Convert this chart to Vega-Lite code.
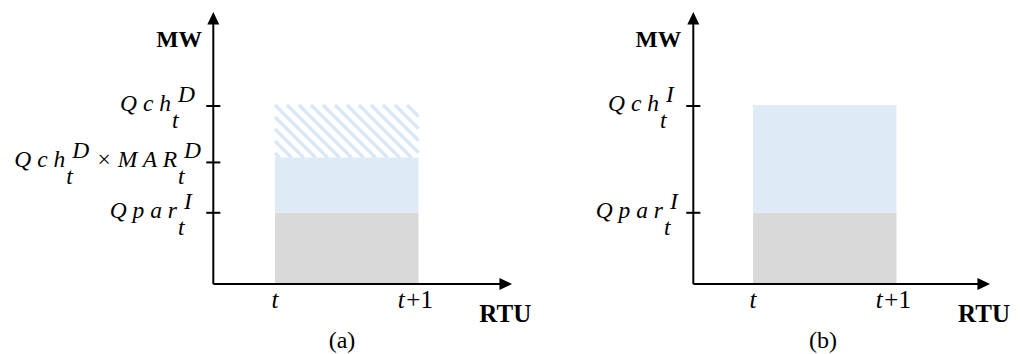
{
  "$schema": "https://vega.github.io/schema/vega-lite/v6.json",
  "padding": 0,
  "spacing": 0,
  "background": "white",
  "config": {"view": {"stroke": null}, "concat": {"spacing": 0}},
  "datasets": {
    "blocks": [
      {"panel": "a", "start": 0, "end": 1, "low": 0, "high": 40.2, "part": "Qpar"},
      {"panel": "a", "start": 0, "end": 1, "low": 40.2, "high": 71, "part": "Qch"},
      {"panel": "b", "start": 0, "end": 1, "low": 0, "high": 40.2, "part": "Qpar"},
      {"panel": "b", "start": 0, "end": 1, "low": 40.2, "high": 100.5, "part": "Qch"}
    ],
    "hatch": [
      {"panel": "a", "x": 0, "y": 73.53, "x2": 0.031, "y2": 71.0},
      {"panel": "a", "x": 0, "y": 80.28, "x2": 0.115, "y2": 71.0},
      {"panel": "a", "x": 0, "y": 87.02, "x2": 0.199, "y2": 71.0},
      {"panel": "a", "x": 0, "y": 93.76, "x2": 0.282, "y2": 71.0},
      {"panel": "a", "x": 0, "y": 100.5, "x2": 0.366, "y2": 71.0},
      {"panel": "a", "x": 0.084, "y": 100.5, "x2": 0.449, "y2": 71.0},
      {"panel": "a", "x": 0.167, "y": 100.5, "x2": 0.533, "y2": 71.0},
      {"panel": "a", "x": 0.251, "y": 100.5, "x2": 0.617, "y2": 71.0},
      {"panel": "a", "x": 0.334, "y": 100.5, "x2": 0.7, "y2": 71.0},
      {"panel": "a", "x": 0.418, "y": 100.5, "x2": 0.784, "y2": 71.0},
      {"panel": "a", "x": 0.502, "y": 100.5, "x2": 0.868, "y2": 71.0},
      {"panel": "a", "x": 0.585, "y": 100.5, "x2": 0.951, "y2": 71.0},
      {"panel": "a", "x": 0.669, "y": 100.5, "x2": 1, "y2": 73.81},
      {"panel": "a", "x": 0.753, "y": 100.5, "x2": 1, "y2": 80.56},
      {"panel": "a", "x": 0.836, "y": 100.5, "x2": 1, "y2": 87.3},
      {"panel": "a", "x": 0.92, "y": 100.5, "x2": 1, "y2": 94.04}
    ],
    "axisLines": [
      {"panel": "a", "x": -0.43, "y": 0, "x2": 1.6, "y2": 0},
      {"panel": "a", "x": -0.43, "y": 0, "x2": -0.43, "y2": 149},
      {"panel": "a", "x": -0.479, "y": 100, "x2": -0.381, "y2": 100},
      {"panel": "a", "x": -0.479, "y": 68.3, "x2": -0.381, "y2": 68.3},
      {"panel": "a", "x": -0.479, "y": 40, "x2": -0.381, "y2": 40},
      {"panel": "b", "x": -0.416, "y": 0, "x2": 1.6, "y2": 0},
      {"panel": "b", "x": -0.416, "y": 0, "x2": -0.416, "y2": 149},
      {"panel": "b", "x": -0.465, "y": 100, "x2": -0.367, "y2": 100},
      {"panel": "b", "x": -0.465, "y": 40, "x2": -0.367, "y2": 40}
    ],
    "arrowHeads": [
      {"panel": "a", "x": 1.652, "y": 0, "dir": "right"},
      {"panel": "a", "x": -0.43, "y": 152.8, "dir": "up"},
      {"panel": "b", "x": 1.652, "y": 0, "dir": "right"},
      {"panel": "b", "x": -0.416, "y": 152.8, "dir": "up"}
    ],
    "levels": [
      {"panel": "a", "x": -0.718, "y": 100, "main": "Q c h", "sup": "D", "sub": "t"},
      {"panel": "a", "x": -1.455, "y": 68.3, "main": "Q c h", "sup": "D", "sub": "t"},
      {"panel": "a", "x": -0.676, "y": 68.3, "main": "× M A R", "sup": "D", "sub": "t"},
      {"panel": "a", "x": -0.676, "y": 40, "main": "Q p a r", "sup": "I", "sub": "t"},
      {"panel": "b", "x": -0.648, "y": 100, "main": "Q c h", "sup": "I", "sub": "t"},
      {"panel": "b", "x": -0.62, "y": 40, "main": "Q p a r", "sup": "I", "sub": "t"}
    ],
    "timeLabels": [
      {"panel": "a", "x": 0, "label": "t"},
      {"panel": "a", "x": 0.88, "label": "t"},
      {"panel": "b", "x": 0, "label": "t"},
      {"panel": "b", "x": 0.88, "label": "t"}
    ],
    "timeSuffix": [
      {"panel": "a", "x": 0.915, "label": "+1"},
      {"panel": "b", "x": 0.915, "label": "+1"}
    ],
    "yTitle": [
      {"panel": "a", "x": -0.509, "y": 133.1, "label": "MW"},
      {"panel": "b", "x": -0.5, "y": 133.1, "label": "MW"}
    ],
    "xTitle": [
      {"panel": "a", "x": 1.605, "y": -21.3, "label": "RTU"},
      {"panel": "b", "x": 1.61, "y": -21.3, "label": "RTU"}
    ],
    "captions": [
      {"panel": "a", "x": 0.467, "y": -36, "label": "(a)"},
      {"panel": "b", "x": 0.488, "y": -36, "label": "(b)"}
    ]
  },
  "hconcat": [
    {
      "width": 560,
      "height": 354,
      "layer": [
        {
          "data": {"name": "blocks"},
          "transform": [{"filter": "datum.panel === 'a'"}],
          "mark": {"type": "rect"},
          "encoding": {
            "x": {"field": "start", "type": "quantitative", "scale": {"domain": [-1.9164, 1.9861], "nice": false, "zero": false}, "axis": null},
            "x2": {"field": "end"},
            "y": {"field": "low", "type": "quantitative", "scale": {"domain": [-39.33, 159.55], "nice": false, "zero": false}, "axis": null},
            "y2": {"field": "high"},
            "color": {"field": "part", "type": "nominal", "scale": {"domain": ["Qpar", "Qch"], "range": ["#d9d9d9", "#deebf7"]}, "legend": null}
          }
        },
        {
          "data": {"name": "hatch"},
          "transform": [{"filter": "datum.panel === 'a'"}],
          "mark": {"type": "rule", "color": "#d9e7f6", "strokeWidth": 3.5},
          "encoding": {
            "x": {"field": "x", "type": "quantitative"},
            "y": {"field": "y", "type": "quantitative"},
            "x2": {"field": "x2"},
            "y2": {"field": "y2"}
          }
        },
        {
          "data": {"name": "axisLines"},
          "transform": [{"filter": "datum.panel === 'a'"}],
          "mark": {"type": "rule", "color": "black", "strokeWidth": 2},
          "encoding": {
            "x": {"field": "x", "type": "quantitative"},
            "y": {"field": "y", "type": "quantitative"},
            "x2": {"field": "x2"},
            "y2": {"field": "y2"}
          }
        },
        {
          "data": {"name": "arrowHeads"},
          "transform": [{"filter": "datum.panel === 'a'"}],
          "mark": {"type": "point", "filled": true, "opacity": 1, "color": "black", "size": 144, "strokeWidth": 0},
          "encoding": {
            "x": {"field": "x", "type": "quantitative"},
            "y": {"field": "y", "type": "quantitative"},
            "shape": {"field": "dir", "type": "nominal", "scale": {"domain": ["right", "up"], "range": ["M0,0L-2.1,-1L-2.1,1Z", "M0,0L-1,2.1L1,2.1Z"]}, "legend": null}
          }
        },
        {
          "data": {"name": "levels"},
          "transform": [{"filter": "datum.panel === 'a'"}],
          "mark": {"type": "text", "font": "Liberation Serif", "fontStyle": "italic", "fontSize": 23.5, "align": "right", "baseline": "alphabetic", "dx": -1, "dy": 5, "color": "black"},
          "encoding": {"x": {"field": "x", "type": "quantitative"}, "y": {"field": "y", "type": "quantitative"}, "text": {"field": "main"}}
        },
        {
          "data": {"name": "levels"},
          "transform": [{"filter": "datum.panel === 'a'"}],
          "mark": {"type": "text", "font": "Liberation Serif", "fontStyle": "italic", "fontSize": 23.5, "align": "left", "baseline": "alphabetic", "dx": 6, "dy": -4, "color": "black"},
          "encoding": {"x": {"field": "x", "type": "quantitative"}, "y": {"field": "y", "type": "quantitative"}, "text": {"field": "sup"}}
        },
        {
          "data": {"name": "levels"},
          "transform": [{"filter": "datum.panel === 'a'"}],
          "mark": {"type": "text", "font": "Liberation Serif", "fontStyle": "italic", "fontSize": 23.5, "align": "left", "baseline": "alphabetic", "dx": 0, "dy": 22, "color": "black"},
          "encoding": {"x": {"field": "x", "type": "quantitative"}, "y": {"field": "y", "type": "quantitative"}, "text": {"field": "sub"}}
        },
        {
          "data": {"name": "timeLabels"},
          "transform": [{"filter": "datum.panel === 'a'"}],
          "mark": {"type": "text", "font": "Liberation Serif", "fontStyle": "italic", "fontSize": 25, "align": "center", "baseline": "alphabetic", "dy": 24, "color": "black"},
          "encoding": {"x": {"field": "x", "type": "quantitative"}, "y": {"datum": 0, "type": "quantitative"}, "text": {"field": "label"}}
        },
        {
          "data": {"name": "timeSuffix"},
          "transform": [{"filter": "datum.panel === 'a'"}],
          "mark": {"type": "text", "font": "Liberation Serif", "fontSize": 25, "align": "left", "baseline": "alphabetic", "dy": 24, "color": "black"},
          "encoding": {"x": {"field": "x", "type": "quantitative"}, "y": {"datum": 0, "type": "quantitative"}, "text": {"field": "label"}}
        },
        {
          "data": {"name": "yTitle"},
          "transform": [{"filter": "datum.panel === 'a'"}],
          "mark": {"type": "text", "font": "Liberation Serif", "fontWeight": "bold", "fontSize": 23.5, "align": "right", "baseline": "alphabetic", "color": "black"},
          "encoding": {"x": {"field": "x", "type": "quantitative"}, "y": {"field": "y", "type": "quantitative"}, "text": {"field": "label"}}
        },
        {
          "data": {"name": "xTitle"},
          "transform": [{"filter": "datum.panel === 'a'"}],
          "mark": {"type": "text", "font": "Liberation Serif", "fontWeight": "bold", "fontSize": 25, "align": "center", "baseline": "alphabetic", "color": "black"},
          "encoding": {"x": {"field": "x", "type": "quantitative"}, "y": {"field": "y", "type": "quantitative"}, "text": {"field": "label"}}
        },
        {
          "data": {"name": "captions"},
          "transform": [{"filter": "datum.panel === 'a'"}],
          "mark": {"type": "text", "font": "Liberation Serif", "fontSize": 24, "align": "center", "baseline": "alphabetic", "color": "black"},
          "encoding": {"x": {"field": "x", "type": "quantitative"}, "y": {"field": "y", "type": "quantitative"}, "text": {"field": "label"}}
        }
      ]
    },
    {
      "width": 461,
      "height": 354,
      "layer": [
        {
          "data": {"name": "blocks"},
          "transform": [{"filter": "datum.panel === 'b'"}],
          "mark": {"type": "rect"},
          "encoding": {
            "x": {"field": "start", "type": "quantitative", "scale": {"domain": [-1.3449, 1.8676], "nice": false, "zero": false}, "axis": null},
            "x2": {"field": "end"},
            "y": {"field": "low", "type": "quantitative", "scale": {"domain": [-39.33, 159.55], "nice": false, "zero": false}, "axis": null},
            "y2": {"field": "high"},
            "color": {"field": "part", "type": "nominal", "scale": {"domain": ["Qpar", "Qch"], "range": ["#d9d9d9", "#deebf7"]}, "legend": null}
          }
        },
        {
          "data": {"name": "axisLines"},
          "transform": [{"filter": "datum.panel === 'b'"}],
          "mark": {"type": "rule", "color": "black", "strokeWidth": 2},
          "encoding": {
            "x": {"field": "x", "type": "quantitative"},
            "y": {"field": "y", "type": "quantitative"},
            "x2": {"field": "x2"},
            "y2": {"field": "y2"}
          }
        },
        {
          "data": {"name": "arrowHeads"},
          "transform": [{"filter": "datum.panel === 'b'"}],
          "mark": {"type": "point", "filled": true, "opacity": 1, "color": "black", "size": 144, "strokeWidth": 0},
          "encoding": {
            "x": {"field": "x", "type": "quantitative"},
            "y": {"field": "y", "type": "quantitative"},
            "shape": {"field": "dir", "type": "nominal", "scale": {"domain": ["right", "up"], "range": ["M0,0L-2.1,-1L-2.1,1Z", "M0,0L-1,2.1L1,2.1Z"]}, "legend": null}
          }
        },
        {
          "data": {"name": "levels"},
          "transform": [{"filter": "datum.panel === 'b'"}],
          "mark": {"type": "text", "font": "Liberation Serif", "fontStyle": "italic", "fontSize": 23.5, "align": "right", "baseline": "alphabetic", "dx": -1, "dy": 5, "color": "black"},
          "encoding": {"x": {"field": "x", "type": "quantitative"}, "y": {"field": "y", "type": "quantitative"}, "text": {"field": "main"}}
        },
        {
          "data": {"name": "levels"},
          "transform": [{"filter": "datum.panel === 'b'"}],
          "mark": {"type": "text", "font": "Liberation Serif", "fontStyle": "italic", "fontSize": 23.5, "align": "left", "baseline": "alphabetic", "dx": 6, "dy": -4, "color": "black"},
          "encoding": {"x": {"field": "x", "type": "quantitative"}, "y": {"field": "y", "type": "quantitative"}, "text": {"field": "sup"}}
        },
        {
          "data": {"name": "levels"},
          "transform": [{"filter": "datum.panel === 'b'"}],
          "mark": {"type": "text", "font": "Liberation Serif", "fontStyle": "italic", "fontSize": 23.5, "align": "left", "baseline": "alphabetic", "dx": 0, "dy": 22, "color": "black"},
          "encoding": {"x": {"field": "x", "type": "quantitative"}, "y": {"field": "y", "type": "quantitative"}, "text": {"field": "sub"}}
        },
        {
          "data": {"name": "timeLabels"},
          "transform": [{"filter": "datum.panel === 'b'"}],
          "mark": {"type": "text", "font": "Liberation Serif", "fontStyle": "italic", "fontSize": 25, "align": "center", "baseline": "alphabetic", "dy": 24, "color": "black"},
          "encoding": {"x": {"field": "x", "type": "quantitative"}, "y": {"datum": 0, "type": "quantitative"}, "text": {"field": "label"}}
        },
        {
          "data": {"name": "timeSuffix"},
          "transform": [{"filter": "datum.panel === 'b'"}],
          "mark": {"type": "text", "font": "Liberation Serif", "fontSize": 25, "align": "left", "baseline": "alphabetic", "dy": 24, "color": "black"},
          "encoding": {"x": {"field": "x", "type": "quantitative"}, "y": {"datum": 0, "type": "quantitative"}, "text": {"field": "label"}}
        },
        {
          "data": {"name": "yTitle"},
          "transform": [{"filter": "datum.panel === 'b'"}],
          "mark": {"type": "text", "font": "Liberation Serif", "fontWeight": "bold", "fontSize": 23.5, "align": "right", "baseline": "alphabetic", "color": "black"},
          "encoding": {"x": {"field": "x", "type": "quantitative"}, "y": {"field": "y", "type": "quantitative"}, "text": {"field": "label"}}
        },
        {
          "data": {"name": "xTitle"},
          "transform": [{"filter": "datum.panel === 'b'"}],
          "mark": {"type": "text", "font": "Liberation Serif", "fontWeight": "bold", "fontSize": 25, "align": "center", "baseline": "alphabetic", "color": "black"},
          "encoding": {"x": {"field": "x", "type": "quantitative"}, "y": {"field": "y", "type": "quantitative"}, "text": {"field": "label"}}
        },
        {
          "data": {"name": "captions"},
          "transform": [{"filter": "datum.panel === 'b'"}],
          "mark": {"type": "text", "font": "Liberation Serif", "fontSize": 24, "align": "center", "baseline": "alphabetic", "color": "black"},
          "encoding": {"x": {"field": "x", "type": "quantitative"}, "y": {"field": "y", "type": "quantitative"}, "text": {"field": "label"}}
        }
      ]
    }
  ]
}
